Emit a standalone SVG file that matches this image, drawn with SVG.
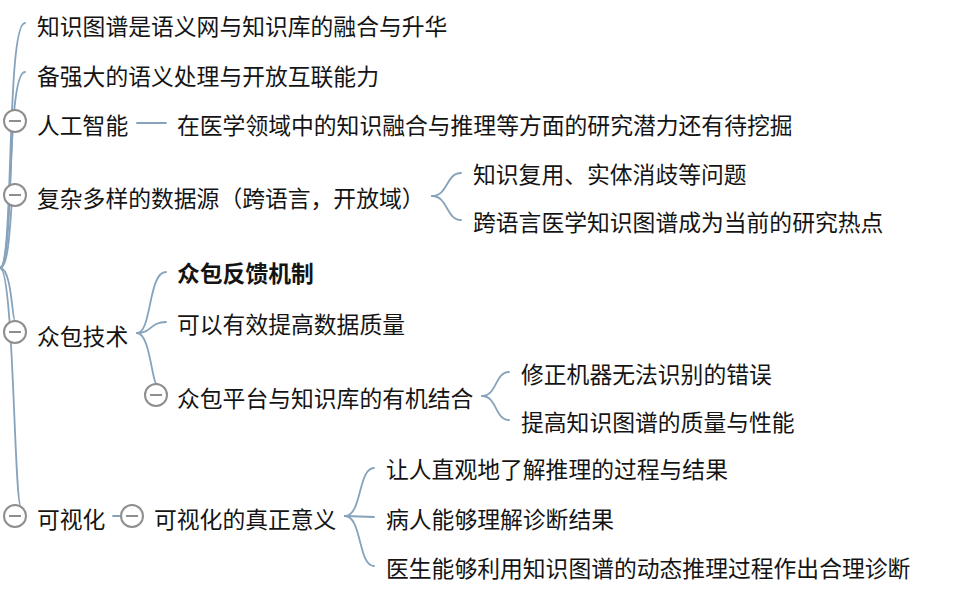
<svg xmlns="http://www.w3.org/2000/svg" width="967" height="592" viewBox="0 0 967 592">
<style>
text{font-family:"Microsoft YaHei","Noto Sans CJK SC","Noto Sans",sans-serif;font-size:22.8px;fill:#141414;dominant-baseline:central}
.b{font-weight:bold}
.c path{fill:none;stroke:#87a3bb;stroke-width:1.8;stroke-linecap:round}
.t circle{fill:#fff;stroke:#8e8e8e;stroke-width:2}
.t line{stroke:#8e8e8e;stroke-width:2}
</style>
<rect width="967" height="592" fill="#fff"/>
<g class="c" id="connectors">
<path d="M0,268 C14,268 6,23 25,23"/>
<path d="M0,268 C14,268 6,72 25,72"/>
<path d="M0,268 C12,268 10,110 15,110"/>
<path d="M0,268 C12,268 10,184 15,184"/>
<path d="M0,268 C12,268 12,321 15,321"/>
<path d="M0,268 C14,268 14,506 21,507"/>
<path d="M137,123 L166,123"/>
<path d="M432,196 C448,196 446,173 461,173"/>
<path d="M432,196 C448,196 446,220 461,220"/>
<path d="M137,333 C152,333 148,272 166,272"/>
<path d="M137,333 C152,333 150,322 166,322"/>
<path d="M137,333 C150,333 152,384 157,384"/>
<path d="M482,396 C497,396 495,372 509,372"/>
<path d="M482,396 C497,396 495,420 509,420"/>
<path d="M113,516 L121,516"/>
<path d="M345,516 C362,516 358,468 374,468"/>
<path d="M345,516 L374,517"/>
<path d="M345,516 C362,516 358,566 374,566"/>
</g>
<g id="n1"><text x="37" y="25">知识图谱是语义网与知识库的融合与升华</text></g>
<g id="n2"><text x="37" y="75">备强大的语义处理与开放互联能力</text></g>
<g id="n3" class="t"><circle cx="15" cy="121" r="11"/><line x1="9" y1="121" x2="21" y2="121"/><text x="37" y="124">人工智能</text></g>
<g id="n3a"><text x="177" y="124">在医学领域中的知识融合与推理等方面的研究潜力还有待挖掘</text></g>
<g id="n4" class="t"><circle cx="15" cy="195" r="11"/><line x1="9" y1="195" x2="21" y2="195"/><text x="37" y="197">复杂多样的数据源（跨语言，开放域）</text></g>
<g id="n4a"><text x="473" y="173">知识复用、实体消歧等问题</text></g>
<g id="n4b"><text x="473" y="221">跨语言医学知识图谱成为当前的研究热点</text></g>
<g id="n5" class="t"><circle cx="15" cy="332" r="11"/><line x1="9" y1="332" x2="21" y2="332"/><text x="37" y="335">众包技术</text></g>
<g id="n5a"><text class="b" x="177" y="272">众包反馈机制</text></g>
<g id="n5b"><text x="177" y="323">可以有效提高数据质量</text></g>
<g id="n5c" class="t"><circle cx="156" cy="395" r="11"/><line x1="150" y1="395" x2="162" y2="395"/><text x="177" y="397">众包平台与知识库的有机结合</text></g>
<g id="n5c1"><text x="521" y="373">修正机器无法识别的错误</text></g>
<g id="n5c2"><text x="521" y="421">提高知识图谱的质量与性能</text></g>
<g id="n6" class="t"><circle cx="15" cy="516" r="11"/><line x1="9" y1="516" x2="21" y2="516"/><text x="37" y="518">可视化</text></g>
<g id="n6a" class="t"><circle cx="132" cy="516" r="11"/><line x1="126" y1="516" x2="138" y2="516"/><text x="154" y="518">可视化的真正意义</text></g>
<g id="n6a1"><text x="386" y="468">让人直观地了解推理的过程与结果</text></g>
<g id="n6a2"><text x="386" y="518">病人能够理解诊断结果</text></g>
<g id="n6a3"><text x="386" y="567">医生能够利用知识图谱的动态推理过程作出合理诊断</text></g>
</svg>
